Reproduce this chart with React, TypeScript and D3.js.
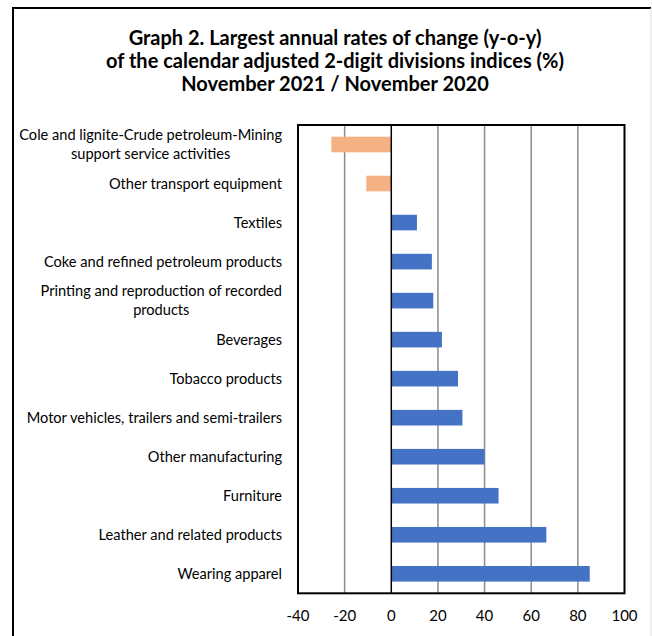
import React, { useEffect, useRef } from "react";
import * as d3 from "d3";

const categories: string[][] = [
  ["Cole and lignite-Crude petroleum-Mining", "support service activities"],
  ["Other transport equipment"],
  ["Textiles"],
  ["Coke and refined petroleum products"],
  ["Printing and reproduction of recorded", "products"],
  ["Beverages"],
  ["Tobacco products"],
  ["Motor vehicles, trailers and semi-trailers"],
  ["Other manufacturing"],
  ["Furniture"],
  ["Leather and related products"],
  ["Wearing apparel"],
];
const values: number[] = [-25.7, -10.7, 11.0, 17.4, 18.0, 21.7, 28.6, 30.5, 40.0, 46.0, 66.5, 85.1];
const xTicks: number[] = [-40, -20, 0, 20, 40, 60, 80, 100];
const titleLines: string[] = [
  "Graph 2. Largest annual rates of change (y-o-y)",
  "of the calendar adjusted 2-digit divisions indices (%)",
  "November 2021 / November 2020",
];

const W = 652;
const H = 636;
const FONT = "Lato, 'Open Sans', sans-serif";

export default function App() {
  const ref = useRef<SVGSVGElement>(null);
  useEffect(() => {
    const svg = d3.select(ref.current);
    svg.selectAll("*").remove();
    const left = 298, right = 624.5, top = 125, bottom = 593.3;
    const x = d3.scaleLinear().domain([-40, 100]).range([left, right]);
    const idx = categories.map((_, i) => String(i));
    const y = d3.scaleBand().domain(idx).range([top, bottom]).paddingInner(0.6).paddingOuter(0.3);

    svg.append("rect").attr("width", W).attr("height", H).attr("fill", "#fff");
    // outer frame
    svg.append("line").attr("x1", 13).attr("x2", 13).attr("y1", 8).attr("y2", H).attr("stroke", "#000").attr("stroke-width", 2);
    svg.append("line").attr("x1", 12).attr("x2", 651).attr("y1", 8).attr("y2", 8).attr("stroke", "#000").attr("stroke-width", 2);
    svg.append("line").attr("x1", 651).attr("x2", 651).attr("y1", 8).attr("y2", H).attr("stroke", "#ddd").attr("stroke-width", 1);

    // title
    const tY = [45, 68, 91];
    svg.append("g").selectAll("text").data(titleLines).join("text")
      .attr("x", 335).attr("y", (_, i) => tY[i]).attr("text-anchor", "middle")
      .attr("font-family", FONT).attr("font-weight", "bold").attr("font-size", 20).attr("fill", "#000")
      .text(d => d);

    // grid
    svg.append("g").selectAll("line").data(xTicks.filter(t => t !== 0 && t !== -40 && t !== 100)).join("line")
      .attr("x1", d => x(d)).attr("x2", d => x(d)).attr("y1", top).attr("y2", bottom)
      .attr("stroke", "#8c8c8c").attr("stroke-width", 1.5);

    // bars
    svg.append("g").selectAll("rect").data(values).join("rect")
      .attr("x", d => x(Math.min(0, d)))
      .attr("width", d => Math.abs(x(d) - x(0)))
      .attr("y", (_, i) => y(String(i))!)
      .attr("height", y.bandwidth())
      .attr("fill", d => (d < 0 ? "#F4B183" : "#4472C4"));

    // zero line and border
    svg.append("line").attr("x1", x(0)).attr("x2", x(0)).attr("y1", top).attr("y2", bottom).attr("stroke", "#000").attr("stroke-width", 1.5);
    svg.append("rect").attr("x", left).attr("y", top).attr("width", right - left).attr("height", bottom - top)
      .attr("fill", "none").attr("stroke", "#000").attr("stroke-width", 2);

    // x tick labels
    svg.append("g").selectAll("text").data(xTicks).join("text")
      .attr("x", d => x(d)).attr("y", 621).attr("text-anchor", "middle")
      .attr("font-family", FONT).attr("font-size", 15).attr("fill", "#000")
      .text(d => String(d));

    // category labels
    const labelRight = 282;
    const lineH = 19.5;
    categories.forEach((lines, i) => {
      const cy = y(String(i))! + y.bandwidth() / 2;
      const g = svg.append("g");
      const texts = lines.map((l, j) =>
        g.append("text")
          .attr("y", cy + (j - (lines.length - 1) / 2) * lineH + 5)
          .attr("font-family", FONT).attr("font-size", 14.6).attr("fill", "#000")
          .attr("text-anchor", "middle")
          .text(l)
      );
      const maxW = Math.max(...texts.map(t => (t.node() as SVGTextElement).getComputedTextLength()));
      texts.forEach(t => t.attr("x", labelRight - maxW / 2));
    });
  }, []);
  return (
    <svg ref={ref} width={W} height={H} style={{ position: "fixed", left: 0, top: 0, display: "block" }} />
  );
}
